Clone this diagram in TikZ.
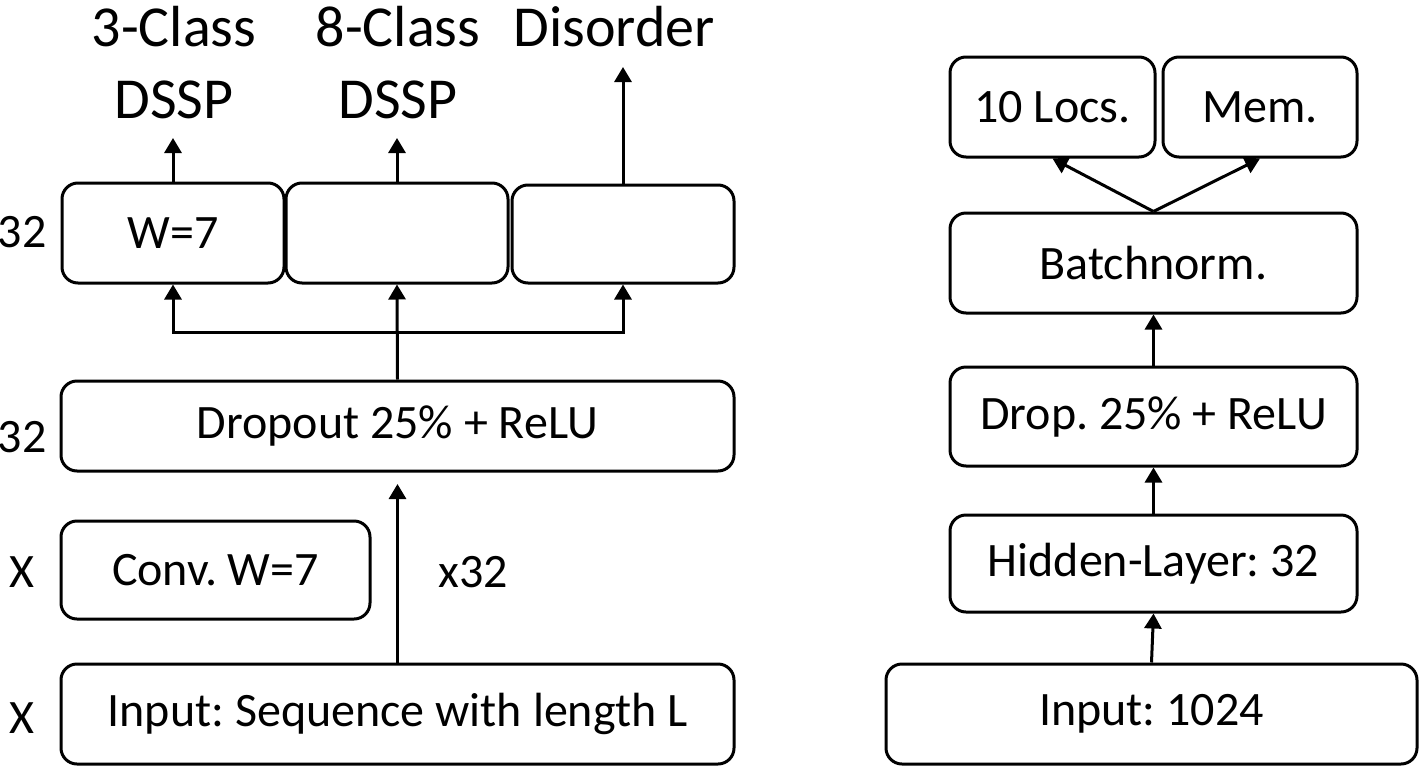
\documentclass[tikz,border=0pt]{standalone}
\usepackage{fontspec}
\setmainfont{Carlito}
\usetikzlibrary{arrows.meta}
\frenchspacing
\begin{document}
\frenchspacing
\begin{tikzpicture}[x=0.5pt,y=-0.5pt,
  box/.style={draw, line width=1.5pt, rounded corners=8pt, inner sep=0pt,
    font=\fontsize{24}{29}\selectfont},
  arr/.style={line width=1.5pt, -{Triangle[length=7.5pt,width=8.5pt]}},
  lbl/.style={font=\fontsize{24}{29}\selectfont, inner sep=0pt},
  ttl/.style={font=\fontsize{29}{36}\selectfont, align=center, inner sep=0pt}]
\useasboundingbox (0,0) rectangle (1419,766);
% left column
\node[box, minimum width=111pt, minimum height=50pt] (b1) at (173,233) {W=7};
\node[box, minimum width=111pt, minimum height=50pt] (b2) at (397,233) {};
\node[box, minimum width=111pt, minimum height=49pt] (b3) at (623,234) {};
\node[box, minimum width=336.5pt, minimum height=45pt] (drop) at (397.5,426) {Dropout 25\% + ReLU};
\node[box, minimum width=154.5pt, minimum height=49pt] (conv) at (215.5,570) {Conv. W=7};
\node[box, minimum width=336.5pt, minimum height=50pt] (inp) at (397.5,714) {Input: Sequence with length L};
\node[lbl] (l1) at (22,232) {32};
\node[lbl] (l2) at (22,437) {32};
\node[lbl] (l3) at (22,572) {X};
\node[lbl] (l4) at (22,718) {X};
\node[lbl] (lx) at (473,572) {x32};
\node[ttl] (t1) at (174,63) {3-Class\\DSSP};
\node[ttl] (t2) at (398,63) {8-Class\\DSSP};
\node[ttl] (t3) at (614,27) {Disorder};
\coordinate (dtip) at (397.5,484);
\coordinate (mid) at (397.5,332);
\coordinate (o1) at (173,138);
\coordinate (o2) at (397,138);
\coordinate (o3) at (623,67);
\draw[arr] (inp.north) -- (dtip);
\draw[arr] (drop.north) -- (b2.south);
\draw[arr] (mid) -| (b1.south);
\draw[arr] (mid) -| (b3.south);
\draw[arr] (b1.north) -- (o1);
\draw[arr] (b2.north) -- (o2);
\draw[arr] (b3.north) -- (o3);
% right column
\node[box, minimum width=102.5pt, minimum height=50pt] (locs) at (1052.5,107) {10 Locs.};
\node[box, minimum width=97pt, minimum height=50pt] (mem) at (1260,107) {Mem.};
\node[box, minimum width=203.5pt, minimum height=50pt] (bn) at (1153.5,263) {Batchnorm.};
\node[box, minimum width=203.5pt, minimum height=49.5pt] (dr) at (1153.5,416.5) {Drop. 25\% + ReLU};
\node[box, minimum width=203.5pt, minimum height=48.5pt] (hid) at (1153.5,563.5) {Hidden-Layer: 32};
\node[box, minimum width=265.5pt, minimum height=50pt] (inr) at (1151.5,714) {Input: 1024};
\draw[arr] (inr.north) -- (hid.south);
\draw[arr] (hid.north) -- (dr.south);
\draw[arr] (dr.north) -- (bn.south);
\draw[arr] (bn.north) -- (locs.south);
\draw[arr] (bn.north) -- (mem.south);
\end{tikzpicture}
\end{document}
